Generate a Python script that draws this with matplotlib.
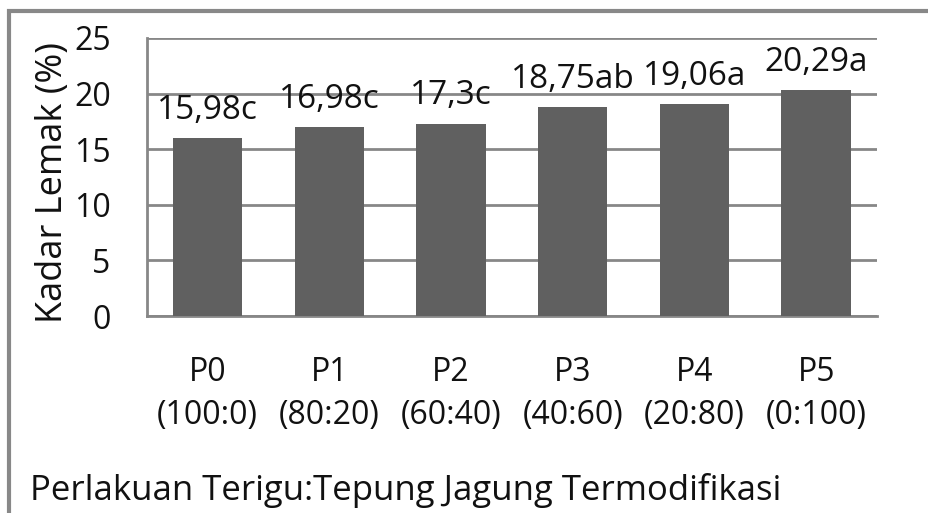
#!/usr/bin/env python3
"""Kadar lemak bar chart."""

import matplotlib
matplotlib.use("Agg")
import matplotlib.pyplot as plt
from matplotlib.patches import Rectangle

categories = ["P0\n(100:0)", "P1\n(80:20)", "P2\n(60:40)", "P3\n(40:60)", "P4\n(20:80)", "P5\n(0:100)"]
values = [15.98, 16.98, 17.3, 18.75, 19.06, 20.29]
labels = ["15,98c", "16,98c", "17,3c", "18,75ab", "19,06a", "20,29a"]
yticks = [0, 5, 10, 15, 20, 25]

plt.rcParams["font.family"] = ["Open Sans", "DejaVu Sans"]
text_color = "#111111"

fig = plt.figure(figsize=(9.29, 5.13), dpi=100)
ax = fig.add_axes([0.158, 0.384, 0.786, 0.542])

grid_color = "#878787"
x = range(len(values))
ax.bar(x, values, width=0.57, color="#606060", zorder=3)
for xi, v, lab in zip(x, values, labels):
    ax.annotate(lab, (xi, v), xytext=(0, 8), textcoords="offset points",
                ha="center", va="bottom", fontsize=24, color=text_color, zorder=4)

ax.set_ylim(0, 25)
ax.set_xlim(-0.5, len(values) - 0.5)
ax.set_yticks(yticks)
ax.set_yticklabels([str(t) for t in yticks], fontsize=23, color=text_color)
ax.set_xticks(list(x))
ax.set_xticklabels(categories, fontsize=23, color=text_color, linespacing=1.4)
ax.tick_params(axis="both", length=0)
ax.tick_params(axis="x", pad=29)
ax.tick_params(axis="y", pad=26)
ax.grid(True, axis="y", color=grid_color, linewidth=2, zorder=0)
for side in ["top", "right"]:
    ax.spines[side].set_visible(False)
for side in ["left", "bottom"]:
    ax.spines[side].set_color(grid_color)
    ax.spines[side].set_linewidth(2)

fig.text(0.057, 0.645, "Kadar Lemak (%)", fontsize=26, color=text_color,
         rotation=90, ha="center", va="center")
fig.text(0.032, 0.043, "Perlakuan Terigu:Tepung Jagung Termodifikasi",
         fontsize=25, color=text_color, ha="left", va="center")

# outer chart frame
fig.patches.append(Rectangle((0.0097, -0.05), 1.2, 1.028, transform=fig.transFigure,
                             fill=False, edgecolor="#888888", linewidth=3))

fig.savefig("out.png", dpi=100)
plt.close(fig)
